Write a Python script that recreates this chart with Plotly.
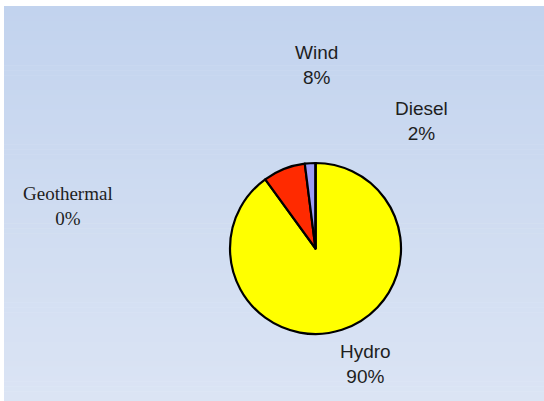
import plotly.graph_objects as go

# Generation mix shares (%)
sources = ["Hydro", "Wind", "Diesel", "Geothermal"]
shares = [90, 8, 2, 0]
slice_colors = ["#FFFF00", "#FF2A00", "#9C9CF6", "#66CC66"]

W, H = 544, 401

# label placement (pixel centres) and fonts
label_pos = {
    "Hydro": (365, 364),
    "Wind": (316, 65),
    "Diesel": (421, 121),
    "Geothermal": (68, 206),
}
label_font = {
    "Hydro": dict(family="Liberation Sans, Arial", size=19, color="#1e1e1e"),
    "Wind": dict(family="Liberation Sans, Arial", size=19, color="#1e1e1e"),
    "Diesel": dict(family="Liberation Sans, Arial", size=19, color="#1e1e1e"),
    "Geothermal": dict(family="Liberation Serif, Times New Roman", size=19, color="#1e1e1e"),
}


def px_x(x):
    return x / W


def px_y(y):
    return 1 - y / H


# pie box in pixels (left, top, right, bottom)
pl, pt, pr, pb = 229.5, 163.0, 401.5, 334.0

fig = go.Figure(
    go.Pie(
        labels=sources,
        values=shares,
        sort=False,
        direction="clockwise",
        rotation=0,
        marker=dict(colors=slice_colors, line=dict(color="#000000", width=2.2)),
        textinfo="none",
        hoverinfo="label+percent",
        showlegend=False,
        domain=dict(x=[px_x(pl), px_x(pr)], y=[px_y(pb), px_y(pt)]),
    )
)

# vertical gradient backdrop built from thin strips
top_rgb = (0xC2, 0xD3, 0xEE)
bot_rgb = (0xDB, 0xE4, 0xF4)
x0, y0, x1, y1 = 4, 6, W, H
n = 80
shapes = []
for i in range(n):
    t = i / (n - 1)
    r, g, b = (round(a + (c - a) * t) for a, c in zip(top_rgb, bot_rgb))
    ya = y0 + (y1 - y0) * i / n
    yb = y0 + (y1 - y0) * (i + 1) / n + 0.6
    shapes.append(dict(
        type="rect", xref="paper", yref="paper", layer="below",
        x0=px_x(x0), x1=px_x(x1), y0=px_y(min(yb, H)), y1=px_y(ya),
        fillcolor=f"rgb({r},{g},{b})", line=dict(width=0),
    ))

annotations = []
for lab, val in zip(sources, shares):
    cx, cy = label_pos[lab]
    annotations.append(dict(
        text=f"{lab}<br>{val}%", x=px_x(cx), y=px_y(cy),
        xref="paper", yref="paper", xanchor="center", yanchor="middle",
        showarrow=False, align="center", font=label_font[lab],
    ))

fig.update_layout(
    width=W, height=H,
    margin=dict(l=0, r=0, t=0, b=0),
    paper_bgcolor="#FFFFFF",
    plot_bgcolor="rgba(0,0,0,0)",
    shapes=shapes,
    annotations=annotations,
)

fig.write_html("out.html")
